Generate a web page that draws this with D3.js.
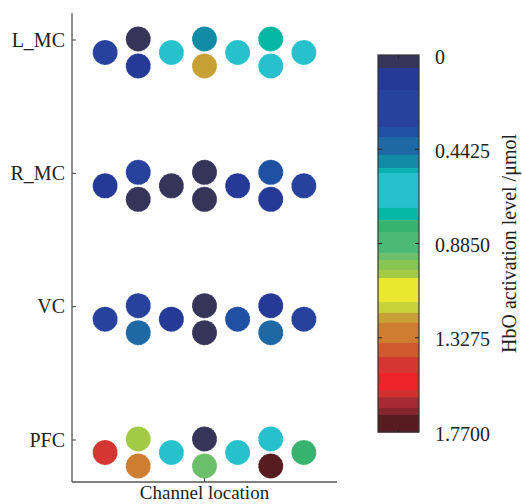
<!DOCTYPE html>
<html>
<head>
<meta charset="utf-8">
<script src="https://cdn.jsdelivr.net/npm/d3@7/dist/d3.min.js"></script>
<style>
  body { margin: 0; background: #fff; }
  svg text { font-family: "Liberation Serif", "Times New Roman", serif; fill: #222; }
</style>
</head>
<body>
<div id="chart"></div>
<script>
// regions on the y axis, top to bottom
var regions = ["L_MC", "R_MC", "VC", "PFC"];

// channel layout: column (1..7) and row within a region
var channelCols = [1, 2, 2, 3, 4, 4, 5, 6, 6, 7];
var channelRows = ["mid", "up", "low", "mid", "up", "low", "mid", "up", "low", "mid"];

// HbO activation per channel (umol), one array per region
var valsLMC = [0.25, 0.03, 0.10, 0.64, 0.50, 1.23, 0.64, 0.74, 0.65, 0.63];
var valsRMC = [0.10, 0.20, 0.03, 0.04, 0.02, 0.03, 0.12, 0.36, 0.14, 0.28];
var valsVC  = [0.25, 0.30, 0.42, 0.13, 0.02, 0.03, 0.36, 0.15, 0.43, 0.22];
var valsPFC = [1.45, 1.03, 1.30, 0.65, 0.02, 0.94, 0.65, 0.62, 1.72, 0.80];

// colour bar: band thresholds and band colours
var cbThresholds = [0.061, 0.164, 0.338, 0.385, 0.469, 0.531, 0.554, 0.718, 0.775, 0.831,
                    0.930, 0.962, 1.009, 1.047, 1.160, 1.211, 1.258, 1.352, 1.418, 1.493,
                    1.573, 1.606, 1.657, 1.690];
var cbColors = ["#363559", "#243a96", "#27429c", "#2050a2", "#1e68a6", "#128ba6", "#0ab1b1",
                "#27c1cc", "#07b7a6", "#37b370", "#4cb975", "#6bbf6a", "#88c653", "#a3ca45",
                "#ebe62f", "#c7d13a", "#c8a136", "#cf7d30", "#d05a2c", "#d53631", "#ee2329",
                "#d1302f", "#a52a31", "#85262f", "#561c20"];
var cbTicks = [0, 0.4425, 0.885, 1.3275, 1.77];
var cbTickLabels = ["0", "0.4425", "0.8850", "1.3275", "1.7700"];
var cbMax = 1.77;

var allVals = [valsLMC, valsRMC, valsVC, valsPFC];

var svg = d3.select("#chart").append("svg")
    .attr("width", 522)
    .attr("height", 504);

var color = d3.scaleThreshold().domain(cbThresholds).range(cbColors);

var x = d3.scaleLinear().domain([0, 8]).range([72, 337]);
var y = d3.scalePoint().domain(regions).range([40, 440]);
var sub = d3.scalePoint().domain(["up", "mid", "low"]).range([-1, 26]);

// dots
var dots = [];
allVals.forEach(function(vals, r) {
    vals.forEach(function(v, i) {
        dots.push({region: regions[r], col: channelCols[i], row: channelRows[i], value: v});
    });
});

svg.append("g")
    .selectAll("circle")
    .data(dots)
    .enter()
    .append("circle")
    .attr("cx", d => x(d.col))
    .attr("cy", d => y(d.region) + sub(d.row))
    .attr("r", 12.5)
    .attr("fill", d => color(d.value))
    .attr("stroke", "#fff")
    .attr("stroke-opacity", 0.5)
    .attr("stroke-width", 0.8)
    .attr("stroke-dasharray", "1.5,2");

// y axis
var yAxisG = svg.append("g").attr("transform", "translate(72,0)");
yAxisG.append("line")
    .attr("y1", 13).attr("y2", 482)
    .attr("stroke", "#444").attr("stroke-width", 1.2);
yAxisG.selectAll(".tk")
    .data(regions)
    .enter()
    .append("line")
    .attr("x1", 0).attr("x2", 4)
    .attr("y1", d => y(d)).attr("y2", d => y(d))
    .attr("stroke", "#444");
yAxisG.selectAll("text")
    .data(regions)
    .enter()
    .append("text")
    .attr("x", -7)
    .attr("y", d => y(d))
    .attr("dy", "0.33em")
    .attr("text-anchor", "end")
    .attr("font-size", 20)
    .text(d => d);

// x axis
var xAxisG = svg.append("g").attr("transform", "translate(0,482)");
xAxisG.append("line")
    .attr("x1", x(0)).attr("x2", x(8))
    .attr("stroke", "#555").attr("stroke-width", 1.5);
xAxisG.append("line")
    .attr("x1", x(4)).attr("x2", x(4))
    .attr("y1", 0).attr("y2", -4)
    .attr("stroke", "#444");
svg.append("text")
    .attr("x", x(4))
    .attr("y", 499)
    .attr("text-anchor", "middle")
    .attr("font-size", 19)
    .text("Channel location");

// colour bar
var cbX = 378, cbW = 41;
var cy = d3.scaleLinear().domain([0, cbMax]).range([55, 432]);
var bands = cbColors.map(function(c, i) {
    return {c: c, v0: i === 0 ? 0 : cbThresholds[i - 1], v1: i < cbThresholds.length ? cbThresholds[i] : cbMax};
});
var cbG = svg.append("g");
cbG.selectAll("rect")
    .data(bands)
    .enter()
    .append("rect")
    .attr("x", cbX)
    .attr("width", cbW)
    .attr("y", d => cy(d.v0))
    .attr("height", d => cy(d.v1) - cy(d.v0) + 0.5)
    .attr("fill", d => d.c);
cbG.append("rect")
    .attr("x", cbX).attr("y", cy(0))
    .attr("width", cbW).attr("height", cy(cbMax) - cy(0))
    .attr("fill", "none")
    .attr("stroke", "#333").attr("stroke-width", 1.2);

var innerTicks = cbTicks.slice(1, -1);
cbG.selectAll(".lt")
    .data(innerTicks)
    .enter()
    .append("line")
    .attr("x1", cbX).attr("x2", cbX + 4)
    .attr("y1", d => cy(d)).attr("y2", d => cy(d))
    .attr("stroke", "#222");
cbG.selectAll(".rt")
    .data(innerTicks)
    .enter()
    .append("line")
    .attr("x1", cbX + cbW - 4).attr("x2", cbX + cbW)
    .attr("y1", d => cy(d)).attr("y2", d => cy(d))
    .attr("stroke", "#222");
cbG.append("line")
    .attr("x1", cbX + cbW / 2).attr("x2", cbX + cbW / 2)
    .attr("y1", cy(0)).attr("y2", cy(0) + 3)
    .attr("stroke", "#222");
cbG.append("line")
    .attr("x1", cbX + cbW / 2).attr("x2", cbX + cbW / 2)
    .attr("y1", cy(cbMax)).attr("y2", cy(cbMax) - 3)
    .attr("stroke", "#222");

cbG.selectAll("text.cbl")
    .data(cbTicks)
    .enter()
    .append("text")
    .attr("class", "cbl")
    .attr("x", 435)
    .attr("y", d => cy(d) + 2)
    .attr("dy", "0.33em")
    .attr("font-size", 20)
    .text((d, i) => cbTickLabels[i]);

svg.append("text")
    .attr("transform", "translate(509," + cy(cbMax / 2) + ") rotate(-90)")
    .attr("text-anchor", "middle")
    .attr("dy", "0.33em")
    .attr("font-size", 20)
    .text("HbO activation level /\u03bcmol");
</script>
</body>
</html>
